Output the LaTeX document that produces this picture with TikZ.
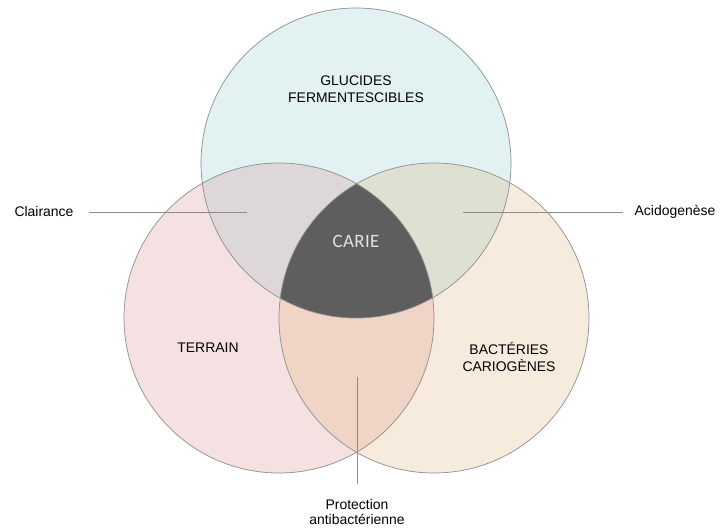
\documentclass[tikz,border=0pt]{standalone}
\usepackage{fontspec}
\setmainfont{Liberation Sans}
\newfontfamily\cariefont{Carlito}
\definecolor{gluFill}{HTML}{E2F1F1}
\definecolor{terFill}{HTML}{F6E1E2}
\definecolor{bacFill}{HTML}{F7EBDD}
\definecolor{gluTer}{HTML}{DDD7D9}
\definecolor{gluBac}{HTML}{DEE1D2}
\definecolor{terBac}{HTML}{F0D5C7}
\definecolor{carieFill}{HTML}{5E5E5E}
\definecolor{rimGrey}{HTML}{8E8E8E}
\definecolor{guideGrey}{HTML}{8C8C8C}
\definecolor{carieText}{HTML}{E2E2E2}

\begin{document}
\begin{tikzpicture}[x=1bp,y=-1bp,
                ring/.style={circle,minimum size=310bp,inner sep=0pt},
                rim/.style={draw=rimGrey,line width=0.7bp},
                note/.style={align=center,inner sep=0pt,font=\fontsize{14}{17}\selectfont},
                side/.style={inner ysep=0pt,font=\fontsize{14}{17}\selectfont},
                guide/.style={draw=guideGrey,line width=0.7bp}]
                \useasboundingbox[fill=white] (0,0) rectangle (720,528);
                \node[ring,fill=gluFill] (glu) at (356,163) {};
                \node[ring,fill=terFill] (ter) at (279,318) {};
                \node[ring,fill=bacFill] (bac) at (434,318) {};
                \begin{scope}
                        \clip (ter.center) circle[radius=155bp];
                        \fill[terBac] (bac.center) circle[radius=155bp];
                \end{scope}
                \begin{scope}
                        \clip (glu.center) circle[radius=155bp];
                        \fill[gluTer] (ter.center) circle[radius=155bp];
                        \fill[gluBac] (bac.center) circle[radius=155bp];
                        \clip (ter.center) circle[radius=155bp];
                        \fill[carieFill] (bac.center) circle[radius=155bp];
                \end{scope}
                \path[rim] 
                        (glu.center) circle[radius=155bp]
                        (ter.center) circle[radius=155bp]
                        (bac.center) circle[radius=155bp];
                \node[note] (gtxt) at (356,89) {GLUCIDES\\FERMENTESCIBLES};
                \node[note] (ttxt) at (208,348) {TERRAIN};
                \node[note] (btxt) at (509,357) {BACTÉRIES\\CARIOGÈNES};
                \node[note,font=\cariefont\fontsize{19}{22}\selectfont,text=carieText] (carie) at (356,241) {C\kern0.4bp A\kern0.4bp R\kern0.4bp I\kern0.4bp E};
                \node[side,inner xsep=15bp] (clair) at (44,212) {Clairance};
                \node[side,inner xsep=11bp] (acid) at (675,212) {Acidogenèse};
                \node[note,font=\fontsize{14}{15}\selectfont,inner ysep=15bp] (prot) at (357,512) {Protection\\antibactérienne};
                \coordinate (cl) at (247,212);
                \coordinate (ac) at (463,212);
                \coordinate (pc) at (357,377);
                \path[guide] 
                        (clair) edge (cl)
                        (acid) edge (ac)
                        (prot) edge (pc);
\end{tikzpicture}
\end{document}
